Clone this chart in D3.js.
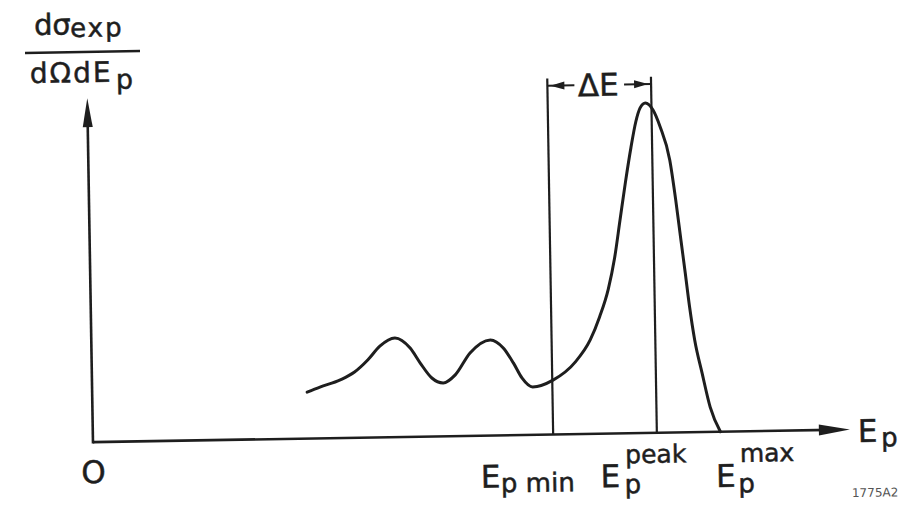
<!DOCTYPE html>
<html lang="en">
<head>
<meta charset="UTF-8">
<title>Proton spectrum sketch</title>
<script src="https://d3js.org/d3.v7.min.js"></script>
<style>
  html, body { margin: 0; padding: 0; background: #fff; }
  text { font-family: "DejaVu Sans", sans-serif; fill: #1e1e1e; stroke: #1e1e1e; stroke-width: 0.5px; }
</style>
</head>
<body>
<div id="chart"></div>
<script>
// curve (energy in arbitrary units 0..100, cross section 0..100)
var energy = [28.4, 30.1, 32.8, 34.7, 36.5, 38.1, 40.1, 42.1, 43.4, 44.9, 46.4, 48.0, 50.0, 52.7,
              54.4, 55.7, 56.8, 58.2, 60.9, 63.9, 65.9, 67.2, 68.4, 69.3, 70.1, 70.9, 71.7,
              72.4, 73.0, 73.7, 74.7, 75.6, 76.8, 77.5, 78.1, 78.6, 79.1, 79.7, 80.6, 81.6, 82.9];
var crossSection = [13.5, 14.9, 16.9, 19.1, 22.6, 26.5, 28.8, 25.8, 21.4, 17.0, 15.5, 17.8, 24.1, 27.8,
                    25.4, 21.0, 16.6, 13.9, 15.8, 21.0, 27.3, 34.0, 42.0, 51.0, 62.0, 73.0, 83.0,
                    90.5, 94.5, 95.9, 93.8, 88.9, 79.2, 67.6, 55.9, 46.3, 36.4, 26.8, 17.2, 7.2, 0];

// marked energies on the axis
var markerEnergy = [60.8, 74.5, 82.9];
var markerSup = ["", "peak", "max"];
var markerSub = ["p", "p", "p"];
var markerTail = [" min", "", ""];
var markerLineTop = [103.5, 103.5, null];   // Emax has no drop line
var deltaLevel = 101.4;

var W = 921, H = 505;
var ink = "#1e1e1e";

var svg = d3.select("#chart").append("svg")
    .attr("width", W)
    .attr("height", H);

// the scan is tilted by about one degree
var g = svg.append("g")
    .attr("transform", "rotate(-0.95, 460, 260)");

var x = d3.scaleLinear().domain([0, 100]).range([90, 847]);
var y = d3.scaleLinear().domain([0, 100]).range([436, 92]);

// axes
g.append("line")
    .attr("x1", x(0)).attr("y1", y(0))
    .attr("x2", x(100) - 20).attr("y2", y(0))
    .attr("stroke", ink).attr("stroke-width", 2.6);
g.append("line")
    .attr("x1", x(0)).attr("y1", y(0) + 1.3)
    .attr("x2", x(0)).attr("y2", y(100) + 20)
    .attr("stroke", ink).attr("stroke-width", 2.6);

// arrow heads
g.append("path")
    .attr("d", "M" + x(100) + "," + y(0) + "L" + (x(100) - 31) + "," + (y(0) - 5.5) +
               "L" + (x(100) - 31) + "," + (y(0) + 5.5) + "Z")
    .attr("fill", ink);
g.append("path")
    .attr("d", "M" + x(0) + "," + y(100) + "L" + (x(0) - 5) + "," + (y(100) + 29) +
               "L" + (x(0) + 5) + "," + (y(100) + 29) + "Z")
    .attr("fill", ink);

// drop lines at Emin and Epeak
markerEnergy.forEach(function(e, i) {
    if (markerLineTop[i] === null) return;
    g.append("line")
        .attr("x1", x(e)).attr("y1", y(0))
        .attr("x2", x(e)).attr("y2", y(markerLineTop[i]))
        .attr("stroke", ink).attr("stroke-width", 2.2);
});

// spectrum curve
var line = d3.line()
    .x(function(d, i) { return x(energy[i]); })
    .y(function(d) { return y(d); })
    .curve(d3.curveMonotoneX);

g.append("path")
    .datum(crossSection)
    .attr("d", line)
    .attr("fill", "none")
    .attr("stroke", ink)
    .attr("stroke-width", 3)
    .attr("stroke-linecap", "round");

// delta E dimension
var xa = x(markerEnergy[0]), xb = x(markerEnergy[1]), yd = y(deltaLevel);
g.append("line").attr("x1", xa).attr("y1", yd).attr("x2", xa + 27).attr("y2", yd)
    .attr("stroke", ink).attr("stroke-width", 2);
g.append("line").attr("x1", xb - 27).attr("y1", yd).attr("x2", xb).attr("y2", yd)
    .attr("stroke", ink).attr("stroke-width", 2);
g.append("path")
    .attr("d", "M" + (xa + 3) + "," + yd + "L" + (xa + 17) + "," + (yd - 4) + "L" + (xa + 17) + "," + (yd + 4) + "Z" +
               "M" + (xb - 3) + "," + yd + "L" + (xb - 17) + "," + (yd - 4) + "L" + (xb - 17) + "," + (yd + 4) + "Z")
    .attr("fill", ink);
g.append("text")
    .attr("x", (xa + xb) / 2 - 1)
    .attr("y", yd + 11)
    .attr("text-anchor", "middle")
    .style("font-size", "31px")
    .text("\u0394E");

// labels under the axis: E with sub / superscript
var eOffset = [-73, -57, -5];
var eBase = [488, 489.5, 491.3];
var subOffset = [-53, -33, 17];
var subBase = [493, 496, 497];
var supOffset = [0, -32, 19];
var supBase = [0, 466, 466.5];

markerEnergy.forEach(function(e, i) {
    var px = x(e);
    g.append("text")
        .attr("x", px + eOffset[i]).attr("y", eBase[i])
        .style("font-size", "31px")
        .text("E");
    g.append("text")
        .attr("x", px + subOffset[i]).attr("y", subBase[i])
        .style("font-size", "26px")
        .text(markerSub[i] + markerTail[i]);
    if (markerSup[i]) {
        g.append("text")
            .attr("x", px + supOffset[i]).attr("y", supBase[i])
            .style("font-size", "25px")
            .text(markerSup[i]);
    }
});

// axis name Ep
g.append("text").attr("x", x(100) + 8).attr("y", y(0) + 12.5)
    .style("font-size", "31px").text("E");
g.append("text").attr("x", x(100) + 31).attr("y", y(0) + 17.5)
    .style("font-size", "26px").text("p");

// origin
g.append("text").attr("x", x(0)).attr("y", 477)
    .attr("text-anchor", "middle")
    .style("font-size", "31px").text("O");

// figure number
g.append("text").attr("x", 848).attr("y", 503.5)
    .style("font-size", "12px").style("fill", "#555").style("stroke", "none")
    .text("1775A2");

// y axis title as a fraction
g.append("text").attr("x", 38).attr("y", 28)
    .style("font-size", "29px").text("d\u03c3");
g.append("text").attr("x", 74).attr("y", 30.6)
    .style("font-size", "26px").style("letter-spacing", "2px").text("exp");
g.append("line")
    .attr("x1", 28.5).attr("y1", 45.7).attr("x2", 143.5).attr("y2", 45.7)
    .attr("stroke", ink).attr("stroke-width", 2.5);
g.append("text").attr("x", 33).attr("y", 76)
    .style("font-size", "28px").style("letter-spacing", "2px").text("d\u03a9dE");
g.append("text").attr("x", 119).attr("y", 83)
    .style("font-size", "27px").text("p");
</script>
</body>
</html>
